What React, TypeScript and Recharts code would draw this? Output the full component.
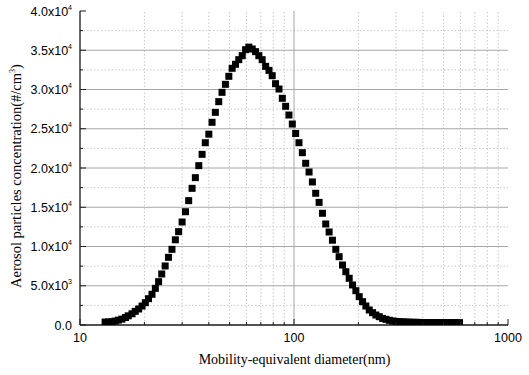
import { ReferenceLine, Scatter, ScatterChart, XAxis, YAxis } from "recharts";

// SMPS channel mid-points (nm) and the number concentration (#/cm3)
const diameters = [
  13.1, 13.6, 14.1, 14.6, 15.1, 15.7, 16.3, 16.8, 17.5, 18.1, 18.8, 19.5, 20.2, 20.9, 21.7, 22.5,
  23.3, 24.1, 25.0, 25.9, 26.9, 27.9, 28.9, 30.0, 31.1, 32.2, 33.4, 34.6, 35.9, 37.2, 38.5, 40.0,
  41.4, 42.9, 44.5, 46.1, 47.8, 49.6, 51.4, 53.3, 55.2, 57.3, 59.4, 61.5, 63.8, 66.1, 68.5, 71.0,
  73.7, 76.4, 79.1, 82.0, 85.1, 88.2, 91.4, 94.7, 98.2, 101.8, 105.5, 109.4, 113.4, 117.6, 121.9,
  126.3, 131.0, 135.8, 140.7, 145.9, 151.2, 156.8, 162.5, 168.5, 174.7, 181.1, 187.7, 194.6, 201.7,
  209.1, 216.7, 224.7, 232.9, 241.4, 250.3, 259.5, 269.0, 278.8, 289.0, 299.6, 310.6, 322.0, 333.8,
  346.0, 358.7, 371.8, 385.4, 399.5, 414.2, 429.4, 445.1, 461.4, 478.3, 495.8, 514.0, 532.8, 552.3,
  572.5, 593.5,
];

const concentration = [
  380, 380, 420, 500, 620, 750, 950, 1170, 1430, 1740, 2040, 2420, 2840, 3350, 3910, 4670,
  5520, 6500, 7520, 8620, 9640, 10850, 11890, 13120, 14430, 15840, 17410, 18770, 20300, 21740, 23220, 24310,
  25820, 27090, 28450, 29640, 30660, 31680, 32700, 33210, 33800, 34310, 35070, 35400, 35160, 34820, 34310, 33800,
  32950, 32440, 31760, 30740, 30060, 28880, 27860, 26750, 25600, 24400, 23220, 21950, 20600, 19490, 18220,
  16780, 15620, 14230, 12870, 11850, 10800, 9640, 8700, 7640, 6790, 5950, 5100, 4370, 3610,
  2970, 2420, 1910, 1570, 1270, 1060, 840, 720, 600, 510, 460, 420, 400, 380,
  360, 350, 340, 330, 320, 320, 310, 310, 300, 300, 300, 300, 300, 300,
  300, 300,
];

const xMajorTicks = [10, 100, 1000];
const xMinorTicks = [20, 30, 40, 50, 60, 70, 80, 90, 200, 300, 400, 500, 600, 700, 800, 900];
const yMajorTicks = [0, 5000, 10000, 15000, 20000, 25000, 30000, 35000, 40000];
const yMinorTicks = [2500, 7500, 12500, 17500, 22500, 27500, 32500, 37500];

const points = diameters.map((d, i) => ({ d, n: concentration[i] }));

const FRAME = "#1a1a1a";
const MAJOR_GRID = "#a6a6a6";
const MINOR_GRID = "#c8c8c8";
const sans = "'Liberation Sans', Arial, sans-serif";
const serif = "'Liberation Serif', 'Times New Roman', serif";

const allX = [...xMajorTicks, ...xMinorTicks].sort((a, b) => a - b);
const allY = [...yMajorTicks, ...yMinorTicks].sort((a, b) => a - b);

const yLabel = (v: number) => {
  if (v === 0) return { mant: "0.0", exp: "" };
  if (v < 10000) return { mant: `${(v / 1000).toFixed(1)}x10`, exp: "3" };
  return { mant: `${(v / 10000).toFixed(1)}x10`, exp: "4" };
};

const BottomTick = (props: any) => {
  const { x, y, payload } = props;
  const major = xMajorTicks.includes(payload.value);
  return (
    <g>
      <line x1={x} x2={x} y1={y} y2={y - (major ? 6 : 3)} stroke={FRAME} strokeWidth={1} />
      {major && (
        <text x={x} y={y + 17} textAnchor="middle" fontFamily={sans} fontSize={12.5} fill="#000">
          {payload.value}
        </text>
      )}
    </g>
  );
};

const TopTick = (props: any) => {
  const { x, y, payload } = props;
  const major = xMajorTicks.includes(payload.value);
  return <line x1={x} x2={x} y1={y} y2={y + (major ? 5 : 3)} stroke={FRAME} strokeWidth={1} />;
};

const LeftTick = (props: any) => {
  const { x, y, payload } = props;
  const major = yMajorTicks.includes(payload.value);
  const lab = yLabel(payload.value);
  return (
    <g>
      <line x1={x} x2={x + (major ? 6 : 3)} y1={y} y2={y} stroke={FRAME} strokeWidth={1} />
      {major && (
        <text x={x - 8} y={y + 4.5} textAnchor="end" fontFamily={sans} fontSize={12.5} fill="#000">
          {lab.mant}
          {lab.exp && (
            <tspan fontSize={7} dy={-6}>
              {lab.exp}
            </tspan>
          )}
        </text>
      )}
    </g>
  );
};

const RightTick = (props: any) => {
  const { x, y } = props;
  return <line x1={x} x2={x - 4} y1={y} y2={y} stroke={FRAME} strokeWidth={1} />;
};

const Square = (props: any) => {
  const { cx, cy } = props;
  return <rect x={cx - 3.5} y={cy - 3.5} width={7} height={7} fill="#000" />;
};

export default function App() {
  return (
    <div style={{ position: "absolute", left: 0, top: 0, width: 529, height: 375, background: "#fff" }}>
      <ScatterChart width={529} height={375} margin={{ top: 11, right: 21, bottom: 20, left: 20 }}>
        <XAxis
          dataKey="d"
          type="number"
          scale="log"
          domain={[10, 1000]}
          ticks={allX}
          interval={0}
          tickSize={0}
          tickMargin={0}
          height={30}
          allowDataOverflow
          axisLine={{ stroke: FRAME, strokeWidth: 1.3 }}
          tick={<BottomTick />}
        />
        <XAxis
          xAxisId="top"
          orientation="top"
          type="number"
          scale="log"
          domain={[10, 1000]}
          ticks={allX}
          interval={0}
          tickSize={0}
          tickMargin={0}
          height={0}
          allowDataOverflow
          axisLine={{ stroke: FRAME, strokeWidth: 1.3 }}
          tick={<TopTick />}
        />
        <YAxis
          dataKey="n"
          type="number"
          domain={[0, 40000]}
          ticks={allY}
          interval={0}
          tickSize={0}
          tickMargin={0}
          width={60}
          allowDataOverflow
          axisLine={{ stroke: FRAME, strokeWidth: 1.3 }}
          tick={<LeftTick />}
        />
        <YAxis
          yAxisId="right"
          orientation="right"
          type="number"
          domain={[0, 40000]}
          ticks={allY}
          interval={0}
          tickSize={0}
          tickMargin={0}
          width={0}
          allowDataOverflow
          axisLine={{ stroke: FRAME, strokeWidth: 1.3 }}
          tick={<RightTick />}
        />
        {xMinorTicks.map((v) => (
          <ReferenceLine key={`xm${v}`} x={v} stroke={MINOR_GRID} strokeDasharray="1.5 2" />
        ))}
        {yMinorTicks.map((v) => (
          <ReferenceLine key={`ym${v}`} y={v} stroke={MINOR_GRID} strokeDasharray="1.5 2" />
        ))}
        <ReferenceLine x={100} stroke={MAJOR_GRID} />
        {yMajorTicks
          .filter((v) => v > 0 && v < 40000)
          .map((v) => (
            <ReferenceLine key={`yM${v}`} y={v} stroke={MAJOR_GRID} />
          ))}
        <Scatter data={points} shape={<Square />} isAnimationActive={false} />
      </ScatterChart>
      <div
        style={{
          position: "absolute",
          left: 0,
          top: 352,
          width: 589,
          textAlign: "center",
          fontFamily: serif,
          fontSize: 14,
          color: "#000",
        }}
      >
        Mobility-equivalent diameter(nm)
      </div>
      <svg width={40} height={375} style={{ position: "absolute", left: 0, top: 0 }}>
        <text
          transform="translate(21,176) rotate(-90)"
          textAnchor="middle"
          fontFamily={serif}
          fontSize={14.5}
          fill="#000"
        >
          Aerosol particles concentration(#/cm
          <tspan fontSize={8} dy={-6}>
            3
          </tspan>
          <tspan dy={6}>)</tspan>
        </text>
      </svg>
    </div>
  );
}
